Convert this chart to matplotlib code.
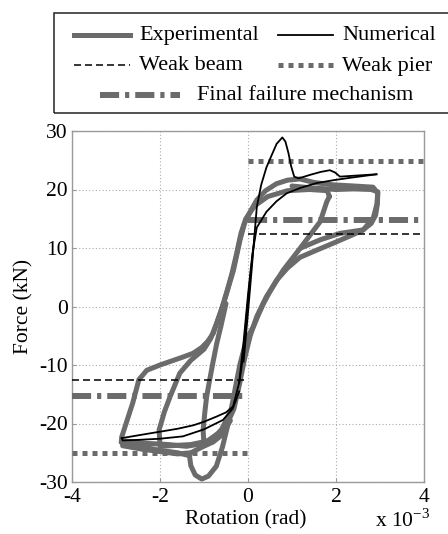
import matplotlib
matplotlib.use("Agg")
import matplotlib.pyplot as plt
from matplotlib.lines import Line2D
from matplotlib.patches import Rectangle

# --- data (rotation in 1e-3 rad, force in kN) ---

# experimental hysteresis, outer cycle (amplitude ~3e-3)
exp_outer_x = [-2.88, -2.87, -2.75, -2.62, -2.48, -2.30, -2.00, -1.77, -1.50, -1.25,
               -1.05, -0.92, -0.79, -0.68, -0.56, -0.45, -0.33, -0.25, -0.18, -0.08,
               0.05, 0.20, 0.40, 0.65, 0.90, 1.18, 1.50, 1.93, 2.40, 2.84,
               2.95, 2.94, 2.90, 2.80, 2.60, 2.30, 1.93, 1.55, 1.18, 0.90,
               0.65, 0.48, 0.35, 0.22, 0.12, -0.03, -0.10, -0.18, -0.26, -0.33,
               -0.45, -0.58, -0.72, -0.90, -1.05, -1.20, -1.30, -1.33, -1.60, -2.00,
               -2.40, -2.88]
exp_outer_y = [-23.2, -22.3, -19.5, -16.5, -12.5, -10.9, -10.0, -9.4, -8.7, -8.0,
               -7.0, -6.0, -4.6, -2.2, 0.5, 3.2, 6.2, 9.0, 11.4, 14.2,
               16.2, 18.2, 19.8, 21.0, 21.6, 21.8, 21.2, 20.8, 20.6, 20.4,
               19.4, 17.5, 15.6, 14.2, 13.0, 12.0, 10.8, 9.6, 8.4, 6.6,
               4.5, 2.3, 0.5, -1.7, -3.5, -5.5, -7.5, -9.8, -12.8, -15.6,
               -20.0, -24.0, -27.3, -29.0, -29.5, -28.8, -27.2, -25.5, -25.0, -24.6,
               -24.0, -23.2]

# experimental, middle cycle (amplitude ~2e-3)
exp_mid_x = [1.85, 1.79, 1.64, 1.41, 1.18, 0.80, 0.42, 0.20, 0.05, -0.08,
             -0.20, -0.32, -0.50, -0.80, -1.30, -2.00, -2.02, -1.90, -1.77, -1.55,
             -1.30, -1.00, -0.85, -0.72, -0.60, -0.48, -0.36, -0.26, -0.16, -0.05,
             0.15, 0.45, 0.90, 1.40, 1.80, 1.85]
exp_mid_y = [18.8, 17.9, 14.5, 12.2, 9.9, 6.2, 1.7, -1.7, -5.0, -9.0,
             -13.5, -17.5, -20.5, -22.8, -23.6, -23.9, -21.1, -18.0, -15.4, -11.4,
             -9.2, -7.3, -5.5, -3.0, -0.5, 2.5, 5.8, 9.0, 12.5, 15.0,
             17.2, 18.8, 19.8, 20.0, 19.8, 18.8]

# experimental, reloading towards the largest cycle
exp_reload_x = [1.20, 1.64, 2.09, 2.62, 2.85, 2.93, 2.95, 2.80, 2.40, 2.00, 1.40, 1.00]
exp_reload_y = [10.0, 11.4, 12.5, 13.1, 15.2, 17.5, 19.6, 20.0, 20.1, 20.0, 20.3, 20.6]

# experimental, small cycle on the negative side (~1e-3)
exp_small_x = [-0.40, -0.60, -0.80, -1.00, -1.02, -0.98, -0.94, -0.87, -0.80, -0.71,
               -0.62, -0.50]
exp_small_y = [-19.5, -22.0, -23.2, -23.8, -21.1, -18.0, -15.4, -12.5, -9.7, -6.3,
               -3.5, 0.5]

# experimental, extra passes filling the bottom band
exp_bottom_x = [-2.85, -2.40, -2.00, -1.60, -1.30, -0.90, -0.60, -0.40, -0.25]
exp_bottom_y = [-23.8, -24.4, -24.8, -25.2, -25.0, -23.5, -21.0, -18.0, -15.0]
exp_bottom2_x = [-2.80, -2.30, -1.80, -1.40, -1.00, -0.70]
exp_bottom2_y = [-23.0, -23.4, -23.6, -23.9, -23.4, -21.8]

# numerical model
num_pos_x = [-0.10, 0.00, 0.08, 0.14, 0.20, 0.30, 0.42, 0.54, 0.65, 0.78,
             0.85, 0.92, 0.98, 1.05, 1.15, 1.41, 1.65, 1.86, 1.98, 2.09,
             2.50, 2.92]
num_pos_y = [-9.4, -1.0, 6.0, 11.5, 17.0, 20.8, 23.8, 25.9, 27.8, 28.9,
             28.2, 26.2, 24.0, 22.2, 21.9, 22.5, 23.0, 23.3, 22.9, 22.2,
             22.4, 22.6]
num_rel_x = [-0.20, -0.10, 0.00, 0.10, 0.20, 0.42, 0.65, 0.88, 1.20, 1.56, 1.95, 2.32, 2.92]
num_rel_y = [-13.0, -6.0, 2.0, 9.0, 13.5, 16.2, 18.0, 19.35, 20.3, 21.1, 21.6, 22.0, 22.6]
num_neg_x = [0.15, 0.05, -0.05, -0.12, -0.20, -0.34, -0.50, -0.71, -1.00, -1.24,
             -1.60, -2.00, -2.40, -2.87]
num_neg_y = [12.0, 5.0, -3.0, -9.0, -13.0, -17.1, -18.1, -18.8, -19.7, -20.3,
             -20.9, -21.4, -21.9, -22.5]
num_ret_x = [-2.87, -2.85, -2.50, -2.00, -1.48, -1.00, -0.57, -0.35, -0.20]
num_ret_y = [-22.5, -22.9, -22.8, -22.6, -22.2, -21.0, -19.4, -17.5, -14.5]

# capacity levels (kN): positive branch from 0 to 4, negative from -4 to 0
weak_beam = [12.4, -12.6]
weak_pier = [24.8, -25.1]
failure = [14.8, -15.3]

# --- styling ---
plt.rcParams['font.family'] = ['Liberation Serif', 'DejaVu Serif']
plt.rcParams['axes.unicode_minus'] = False
plt.rcParams['mathtext.fontset'] = 'stix'

GRAY = '#6b6b6b'
AXGRAY = '#9a9a9a'
FS = 15.5

fig = plt.figure(figsize=(4.48, 5.34), dpi=100)
ax = fig.add_axes([72 / 448, 52 / 534, 352 / 448, 351 / 534])

exp_kw = dict(color=GRAY, lw=3.6, solid_capstyle='round', solid_joinstyle='round', zorder=2)
for xs, ys in [(exp_outer_x, exp_outer_y), (exp_mid_x, exp_mid_y),
               (exp_reload_x, exp_reload_y), (exp_small_x, exp_small_y),
               (exp_bottom_x, exp_bottom_y), (exp_bottom2_x, exp_bottom2_y)]:
    ax.plot(xs, ys, **exp_kw)

# capacity lines
for i, (x0, x1) in enumerate([(0, 4), (-4, 0)]):
    ax.plot([x0, x1], [weak_pier[i]] * 2, color=GRAY, lw=3.6, dashes=(1, 1),
            dash_capstyle='butt', zorder=3)
    ax.plot([x0, x1], [failure[i]] * 2, color=GRAY, lw=4.3, dashes=(3.2, 1, 0.7, 1),
            dash_capstyle='butt', zorder=3)
    ax.plot([x0, x1], [weak_beam[i]] * 2, color='black', lw=1.1, dashes=(4.6, 2.6),
            zorder=4)

num_kw = dict(color='black', lw=1.3, zorder=5)
for xs, ys in [(num_pos_x, num_pos_y), (num_rel_x, num_rel_y),
               (num_neg_x, num_neg_y), (num_ret_x, num_ret_y)]:
    ax.plot(xs, ys, **num_kw)

ax.set_xlim(-4, 4)
ax.set_ylim(-30, 30)
ax.set_xticks([-4, -2, 0, 2, 4])
ax.set_yticks([-30, -20, -10, 0, 10, 20, 30])
ax.grid(True, linestyle=(0, (1, 2)), color='#aaaaaa', lw=0.8)
for s in ax.spines.values():
    s.set_color(AXGRAY)
    s.set_linewidth(1.0)
ax.tick_params(direction='in', length=3, color=AXGRAY, labelsize=FS)
ax.tick_params(axis='y', pad=3)
ax.tick_params(axis='x', pad=4)

ax.set_xlabel('Rotation (rad)', fontsize=FS)
ax.xaxis.set_label_coords(0.494, -0.08)
ax.set_ylabel('Force (kN)', fontsize=FS)
ax.yaxis.set_label_coords(-0.11, 0.5)
fig.text(375 / 448, 7 / 534, r'x 10$^{\mathregular{-3}}$', fontsize=FS, va='baseline')

# --- legend, drawn by hand so the box can run off the right edge ---
def fx(px):
    return px / 448

def fy(py):
    return 1 - py / 534

fig.add_artist(Rectangle((fx(54), fy(113)), fx(470) - fx(54), fy(13) - fy(113),
                         transform=fig.transFigure, fill=False, ec='#222222', lw=1.1))

entries = [
    (74, 130, 35, dict(color=GRAY, lw=3.6), 'Experimental'),
    (278, 333, 35, dict(color='black', lw=1.3), 'Numerical'),
    (74, 130, 65, dict(color='black', lw=1.1, dashes=(4.6, 2.6)), 'Weak beam'),
    (278, 333, 65, dict(color=GRAY, lw=3.6, dashes=(1, 1), dash_capstyle='butt'), 'Weak pier'),
    (100, 180, 95, dict(color=GRAY, lw=4.3, dashes=(3.2, 1, 0.7, 1), dash_capstyle='butt'),
     'Final failure mechanism'),
]
for x0, x1, y, kw, label in entries:
    fig.add_artist(Line2D([fx(x0), fx(x1)], [fy(y), fy(y)], transform=fig.transFigure, **kw))
    tx = x1 + 9 if x1 != 180 else 197
    fig.text(fx(tx), fy(y + 1), label, fontsize=16, va='center')

fig.savefig('out.png', dpi=100)
